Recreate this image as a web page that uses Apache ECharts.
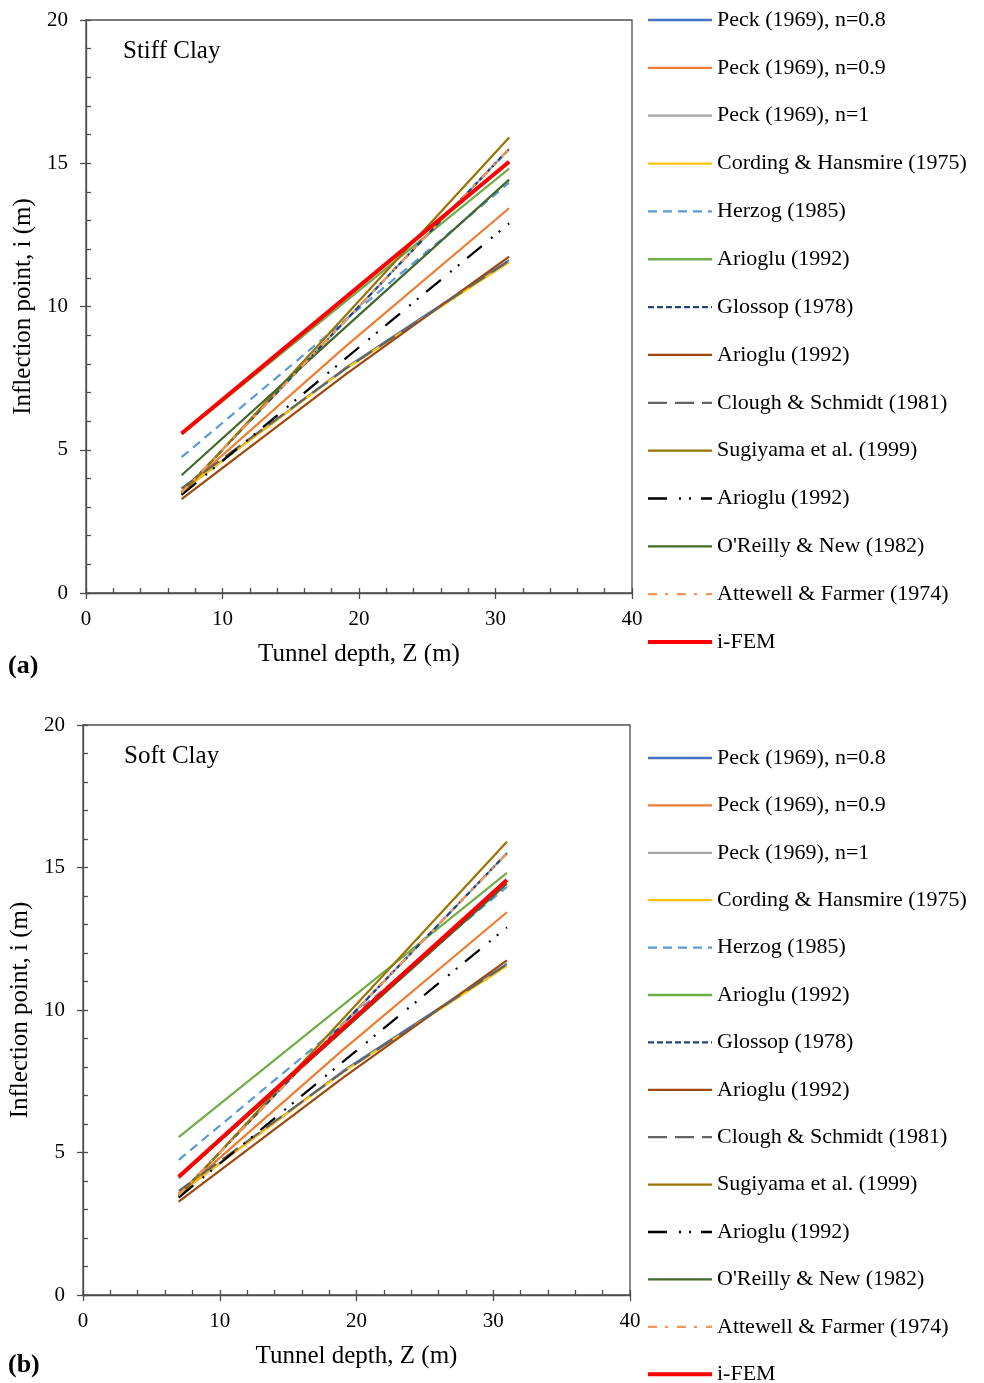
<!DOCTYPE html>
<html>
<head>
<meta charset="utf-8">
<script src="https://cdn.jsdelivr.net/npm/echarts@6/dist/echarts.min.js"></script>
<style>
html,body{margin:0;padding:0;background:#fff;}
#chart{width:984px;height:1383px;}
</style>
</head>
<body>
<div id="chart"></div>
<script>
// ---- Data ----
const depthZ = [7, 19, 31];
const xTicks = [0, 10, 20, 30, 40];
const yTicks = [0, 5, 10, 15, 20];

const seriesNames = [
  'Peck (1969), n=0.8',
  'Peck (1969), n=0.9',
  'Peck (1969), n=1',
  'Cording & Hansmire (1975)',
  'Herzog (1985)',
  'Arioglu (1992)',
  'Glossop (1978)',
  'Arioglu (1992)\u200b',
  'Clough & Schmidt (1981)',
  'Sugiyama et al. (1999)',
  'Arioglu (1992)\u200b\u200b',
  "O'Reilly & New (1982)",
  'Attewell & Farmer (1974)',
  'i-FEM'
];

const peck08   = [3.55, 7.85, 11.62];
const peck09   = [3.55, 8.60, 13.43];
const peck10   = [3.50, 9.50, 15.50];
const cording  = [3.55, 7.82, 11.55];
const herzog   = [4.74, 9.53, 14.32];
const ariogluG = [5.54, 10.17, 14.81];
const glossop  = [3.50, 9.50, 15.50];
const ariogluB = [3.28, 7.62, 11.74];
const clough   = [3.65, 7.82, 11.60];
const sugiyama = [3.45, 9.68, 15.90];
const ariogluK = [3.42, 8.18, 12.90];
const oreilly  = [4.11, 9.27, 14.43];
const attewell = [3.50, 9.50, 15.50];
const ifemStiff = [5.57, 10.31, 15.05];
const ifemSoft  = [4.15, 9.35, 14.56];

const commonValues = [peck08, peck09, peck10, cording, herzog, ariogluG, glossop,
                      ariogluB, clough, sugiyama, ariogluK, oreilly, attewell];

// ---- Styles ----
const colors = ['#4472c4','#ed7d31','#a5a5a5','#ffc000','#5b9bd5','#70ad47','#264478',
                '#9e480e','#636363','#997300','#000000','#43682b','#f1975a','#ff0000'];
const dashes = ['solid','solid','solid','solid',[9,6],'solid',[6,3],
                'solid',[19,8],'solid',[19,12,2,8,2,10],'solid',[9,8,3,9],'solid'];
const widths = [2.2,2.2,2.2,2.2,2.2,2.2,2.2,2.2,2.2,2.2,2.2,2.2,2.2,4];

const FONT = 'Liberation Serif';
const AXIS_COLOR = '#4d4d4d';

function pairs(vals) { return depthZ.map((z, i) => [z, vals[i]]); }

function buildSeries(gridIdx, ifem) {
  const all = commonValues.concat([ifem]);
  return all.map((vals, i) => ({
    name: seriesNames[i],
    type: 'line',
    xAxisIndex: gridIdx * 2,
    yAxisIndex: gridIdx * 2,
    data: pairs(vals),
    symbol: 'none',
    silent: true,
    animation: false,
    z: 2 + i * 0.01,
    lineStyle: { color: colors[i], width: widths[i], type: dashes[i] },
    itemStyle: { color: colors[i] }
  }));
}

const grids = [
  { left: 86, top: 20, width: 546, height: 573 },
  { left: 83, top: 725, width: 547, height: 570 }
];

const xAxes = [], yAxes = [];
grids.forEach((g, gi) => {
  xAxes.push({
    type: 'value', gridIndex: gi, position: 'bottom',
    min: xTicks[0], max: xTicks[xTicks.length - 1], interval: xTicks[1] - xTicks[0],
    name: 'Tunnel depth, Z (m)', nameLocation: 'middle', nameGap: 49,
    nameTextStyle: { fontFamily: FONT, fontSize: 25, color: '#000' },
    axisLine: { show: true, onZero: false, lineStyle: { color: AXIS_COLOR, width: 1.3 } },
    axisTick: { show: true, inside: false, length: 6, lineStyle: { color: AXIS_COLOR, width: 1.3 } },
    axisLabel: { fontFamily: FONT, fontSize: 21, color: '#000', margin: 16 },
    splitLine: { show: false }
  });
  xAxes.push({
    type: 'value', gridIndex: gi, position: 'bottom',
    min: 0, max: 40, interval: 2,
    axisLine: { show: false },
    axisTick: { show: true, inside: true, length: 5, lineStyle: { color: AXIS_COLOR, width: 1.3 } },
    axisLabel: { show: false },
    splitLine: { show: false }
  });
  yAxes.push({
    type: 'value', gridIndex: gi, position: 'left',
    min: yTicks[0], max: yTicks[yTicks.length - 1], interval: yTicks[1] - yTicks[0],
    name: 'Inflection point, i (m)', nameLocation: 'middle', nameGap: 49,
    nameTextStyle: { fontFamily: FONT, fontSize: 25, color: '#000' },
    axisLine: { show: true, onZero: false, lineStyle: { color: AXIS_COLOR, width: 1.3 } },
    axisTick: { show: true, inside: false, length: 6, lineStyle: { color: AXIS_COLOR, width: 1.3 } },
    axisLabel: { fontFamily: FONT, fontSize: 21, color: '#000', margin: 18 },
    splitLine: { show: false }
  });
  yAxes.push({
    type: 'value', gridIndex: gi, position: 'left',
    min: 0, max: 20, interval: 1,
    axisLine: { show: false },
    axisTick: { show: true, inside: true, length: 5, lineStyle: { color: AXIS_COLOR, width: 1.3 } },
    axisLabel: { show: false },
    splitLine: { show: false }
  });
});

function legendFor(top, gap) {
  return {
    orient: 'vertical', left: 646, top: top, height: 700, padding: 0,
    itemWidth: 64, itemHeight: 14, itemGap: gap,
    data: seriesNames.map((n, i) => ({ name: n, lineStyle: { width: i === 13 ? 4 : 2.3 } })),
    selectedMode: false,
    itemStyle: { opacity: 0 },
    formatter: n => n.replace(/\u200b/g, ''),
    textStyle: { fontFamily: FONT, fontSize: 22, color: '#000' }
  };
}

const chart = echarts.init(document.getElementById('chart'), null, { renderer: 'canvas' });
chart.setOption({
  animation: false,
  backgroundColor: '#fff',
  grid: grids.map(g => Object.assign({ show: true, borderColor: AXIS_COLOR, borderWidth: 1.3, backgroundColor: 'transparent' }, g)),
  xAxis: xAxes,
  yAxis: yAxes,
  legend: [legendFor(9, 25.85), legendFor(747, 25.4)],
  series: buildSeries(0, ifemStiff).concat(buildSeries(1, ifemSoft)),
  graphic: [
    { type: 'text', left: 123, top: 39, style: { text: 'Stiff Clay', fontFamily: FONT, fontSize: 25, fill: '#000' } },
    { type: 'text', left: 124, top: 744, style: { text: 'Soft Clay', fontFamily: FONT, fontSize: 25, fill: '#000' } },
    { type: 'text', left: 8, top: 653, style: { text: '(a)', fontFamily: FONT, fontSize: 26, fontWeight: 'bold', fill: '#000' } },
    { type: 'text', left: 8, top: 1352, style: { text: '(b)', fontFamily: FONT, fontSize: 26, fontWeight: 'bold', fill: '#000' } }
  ]
});
</script>
</body>
</html>
